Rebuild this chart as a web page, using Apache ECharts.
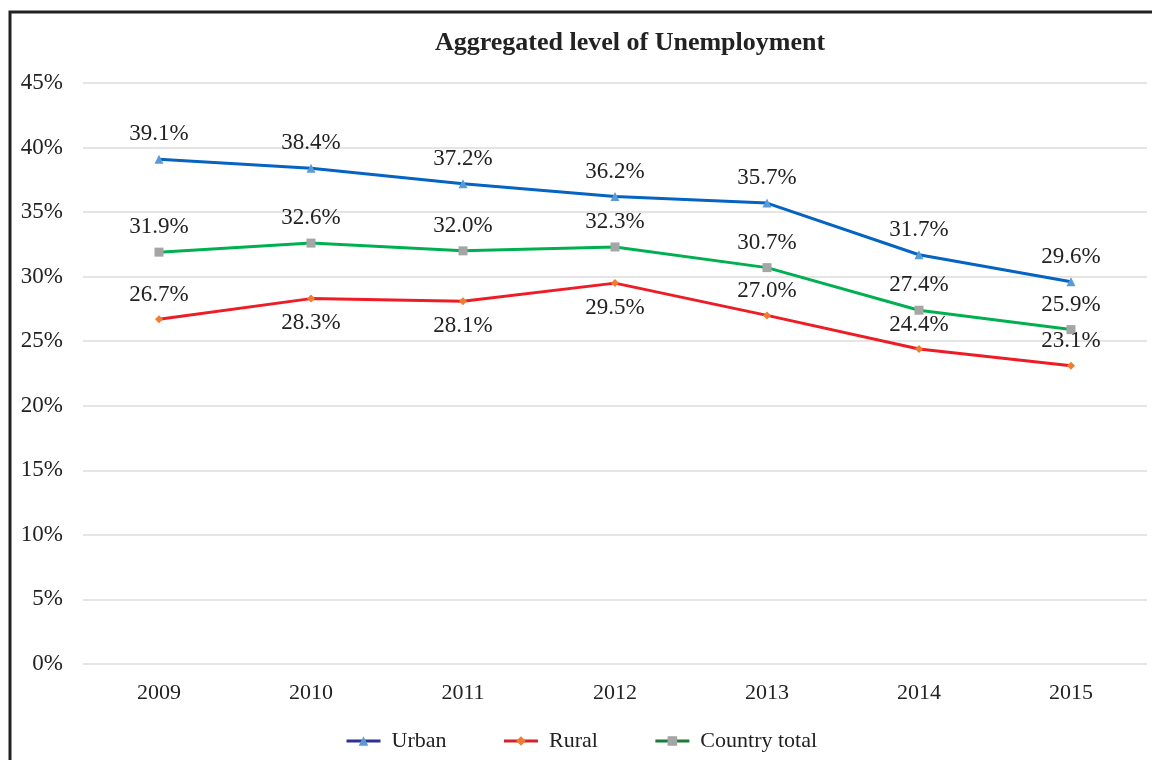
<!DOCTYPE html>
<html>
<head>
    <meta charset="utf-8">
    <title>Aggregated level of Unemployment</title>
    <script src="https://cdn.jsdelivr.net/npm/echarts@6/dist/echarts.min.js"></script>
    <style>
        html, body { margin: 0; padding: 0; background: #fff; }
    </style>
</head>
<body>
    <div id="main" style="width: 1152px;height:760px;"></div>
    <script type="text/javascript">
        var years = ['2009', '2010', '2011', '2012', '2013', '2014', '2015'];
        var urban = [39.1, 38.4, 37.2, 36.2, 35.7, 31.7, 29.6];
        var rural = [26.7, 28.3, 28.1, 29.5, 27.0, 24.4, 23.1];
        var countryTotal = [31.9, 32.6, 32.0, 32.3, 30.7, 27.4, 25.9];
        // where each rural label sits
        var ruralLabelPos = ['top', 'bottom', 'bottom', 'bottom', 'top', 'top', 'top'];

        var serif = '"Liberation Serif", "DejaVu Serif", serif';
        var myChart = echarts.init(document.getElementById('main'));

        var labelStyle = {
            show: true,
            position: 'top',
            distance: 9,
            fontFamily: serif,
            fontSize: 23,
            color: '#222',
            formatter: function (p) { return p.value.toFixed(1) + '%'; }
        };

        var option = {
            animation: false,
            backgroundColor: '#fff',
            title: {
                text: 'Aggregated level of Unemployment',
                left: 625,
                top: 25,
                textAlign: 'center',
                textStyle: { fontFamily: serif, fontSize: 26, fontWeight: 'bold', color: '#222' }
            },
            graphic: [{
                type: 'rect',
                shape: { x: 10, y: 12, width: 1200, height: 800 },
                style: { fill: 'none', stroke: '#222', lineWidth: 3 },
                silent: true
            }],
            legend: {
                top: 725,
                left: 340,
                itemGap: 56,
                itemWidth: 34,
                itemHeight: 12,
                textStyle: { fontFamily: serif, fontSize: 22, color: '#222', padding: [0, 0, 0, 6] },
                data: [
                    { name: 'Urban', lineStyle: { color: '#2E3192', width: 3 } },
                    { name: 'Rural', lineStyle: { color: '#D2232A', width: 3 } },
                    { name: 'Country total', lineStyle: { color: '#1A7A3A', width: 3 } }
                ]
            },
            grid: { left: 83, right: 5, top: 83, bottom: 96 },
            xAxis: {
                type: 'category',
                data: years,
                boundaryGap: true,
                axisLine: { show: false },
                axisTick: { show: false },
                axisLabel: { fontFamily: serif, fontSize: 22, color: '#222', margin: 18 }
            },
            yAxis: {
                type: 'value',
                min: 0,
                max: 45,
                interval: 5,
                axisLine: { show: false },
                axisTick: { show: false },
                splitLine: { lineStyle: { color: '#dcdcdc', width: 1.5 } },
                axisLabel: {
                    fontFamily: serif, fontSize: 23, color: '#222', margin: 20,
                    formatter: '{value}%'
                }
            },
            series: [{
                name: 'Urban',
                type: 'line',
                data: urban,
                symbol: 'triangle',
                symbolSize: 9,
                lineStyle: { color: '#0563C1', width: 3 },
                itemStyle: { color: '#5B9BD5' },
                label: labelStyle
            }, {
                name: 'Rural',
                type: 'line',
                data: rural.map(function (v, i) {
                    return { value: v, label: { position: ruralLabelPos[i] } };
                }),
                symbol: 'diamond',
                symbolSize: 8,
                lineStyle: { color: '#EE1C25', width: 3 },
                itemStyle: { color: '#ED7D31' },
                label: labelStyle
            }, {
                name: 'Country total',
                type: 'line',
                data: countryTotal,
                symbol: 'rect',
                symbolSize: 9,
                lineStyle: { color: '#00B050', width: 3 },
                itemStyle: { color: '#A5A5A5' },
                label: labelStyle
            }]
        };

        myChart.setOption(option);
    </script>
</body>
</html>
